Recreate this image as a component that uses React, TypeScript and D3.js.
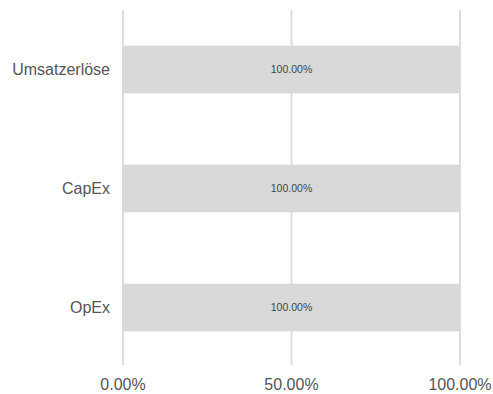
import React from "react";
import * as d3 from "d3";

const categories = ["Umsatzerlöse", "CapEx", "OpEx"];
const values = [1, 1, 1];
const tickValues = [0, 0.5, 1];

const W = 493, H = 394;
const left = 123, right = 460, top = 10, bottom = 367;

export default function App() {
  const x = d3.scaleLinear().domain([0, 1]).range([left, right]);
  const y = d3.scaleBand().domain(categories).range([top, bottom]).paddingInner(0.6).paddingOuter(0.3);
  const fmt = d3.format(".2%");
  const font = "Arial, 'Liberation Sans', sans-serif";
  return (
    <svg width={W} height={H} style={{ position: "absolute", left: 0, top: 0 }} fontFamily={font}>
      {tickValues.map((t) => (
        <g key={t}>
          <line x1={x(t)} x2={x(t)} y1={top} y2={bottom - 2} stroke="#dddddd" strokeWidth={2} />
          <text x={x(t)} y={390} textAnchor="middle" fontSize={16} fill="#555">{fmt(t)}</text>
        </g>
      ))}
      {categories.map((c, i) => (
        <g key={c}>
          <rect x={x(0)} y={y(c)!} width={x(values[i]) - x(0)} height={y.bandwidth()} fill="#d9d9d9" />
          <text x={(x(0) + x(values[i])) / 2} y={y(c)! + y.bandwidth() / 2} dy="0.35em" textAnchor="middle" fontSize={10.5} fill="#444">{fmt(values[i])}</text>
          <text x={110} y={y(c)! + y.bandwidth() / 2} dy="0.35em" textAnchor="end" fontSize={16} fill="#555">{c}</text>
        </g>
      ))}
    </svg>
  );
}
